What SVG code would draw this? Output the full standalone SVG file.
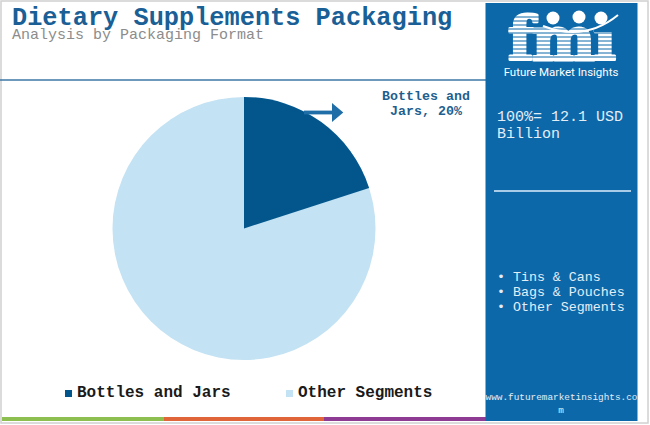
<svg xmlns="http://www.w3.org/2000/svg" width="650" height="425" viewBox="0 0 650 425">
<style>
.mono{font-family:"Liberation Mono","Courier New",monospace}
.title{font-size:25.3px;font-weight:bold;fill:#1a5f96}
.sub{font-size:15px;fill:#8c8c8c}
.lbl{font-size:13.3px;font-weight:bold;fill:#1f5f8f}
.leg{font-size:16px;font-weight:bold;fill:#1a1a1a}
.pan{fill:#e4eef7}
</style>
<defs>
<marker id="ah" markerWidth="3" markerHeight="5" refX="0" refY="2.5" orient="auto" markerUnits="strokeWidth">
<path d="M0,0 L3,2.5 L0,5 Z" fill="#1f6ea8"/>
</marker>
</defs>
<rect x="0" y="0" width="650" height="425" fill="#ffffff"/>
<rect x="1" y="1" width="647" height="422" fill="none" stroke="#d0d0d0" stroke-width="1.5"/>

<g id="header">
<text class="mono title" x="12" y="25">Dietary Supplements Packaging</text>
<text class="mono sub" x="12" y="39">Analysis by Packaging Format</text>
<line x1="0" y1="80" x2="486" y2="80" stroke="#3d78a6" stroke-width="1.5"/>
</g>

<g id="pie">
<circle cx="244" cy="228.5" r="131.5" fill="#c3e2f3"/>
<path d="M244,228.5 L244,97 A131.5,131.5 0 0 1 369.1,187.9 Z" fill="#03568c"/>
</g>

<g id="connectors">
<line x1="304" y1="112.5" x2="332" y2="112.5" stroke="#1f6ea8" stroke-width="3.8" marker-end="url(#ah)"/>
</g>

<g id="label-bottles">
<text class="mono lbl" x="426" y="99.5" text-anchor="middle">Bottles and</text>
<text class="mono lbl" x="426" y="114.5" text-anchor="middle">Jars, 20%</text>
</g>

<g id="legend">
<rect x="65" y="390" width="7" height="7" fill="#03568c"/>
<text class="mono leg" x="77" y="397">Bottles and Jars</text>
<rect x="286" y="390" width="7" height="7" fill="#c3e2f3"/>
<text class="mono leg" x="298" y="397">Other Segments</text>
</g>

<g id="footer-bars">
<rect x="2" y="417" width="162" height="4" fill="#8cbf4f"/>
<rect x="164" y="417" width="160" height="4" fill="#e0663a"/>
<rect x="324" y="417" width="162" height="4" fill="#8e3b93"/>
</g>

<g id="panel">
<rect x="485.5" y="3" width="152" height="418" fill="#0d68a9"/>
<g id="logo">
<text x="561" y="60" text-anchor="middle" font-family="DejaVu Serif, serif" font-weight="bold" font-size="60" fill="#ffffff" stroke="#ffffff" stroke-width="3" stroke-linejoin="round" letter-spacing="-2">fmi</text>
<g stroke="#0d68a9" stroke-width="1">
<line x1="505" y1="17" x2="620" y2="17"/>
<line x1="505" y1="21" x2="620" y2="21"/>
<line x1="505" y1="25" x2="620" y2="25"/>
<line x1="505" y1="29" x2="620" y2="29"/>
<line x1="505" y1="33" x2="620" y2="33"/>
<line x1="505" y1="37" x2="620" y2="37"/>
<line x1="505" y1="41" x2="620" y2="41"/>
<line x1="505" y1="45" x2="620" y2="45"/>
<line x1="505" y1="49" x2="620" y2="49"/>
<line x1="505" y1="53" x2="620" y2="53"/>
<line x1="505" y1="57" x2="620" y2="57"/>
</g>
<rect x="594" y="8" width="18" height="24" fill="#0d68a9"/>
<circle cx="553" cy="18" r="6.5" fill="#ffffff"/>
<circle cx="579" cy="17" r="6.5" fill="#ffffff"/>
<circle cx="601" cy="18" r="6.5" fill="#ffffff"/>
<path d="M543,26 Q585,42 618,15" fill="none" stroke="#ffffff" stroke-width="2"/>
<text x="561" y="76" text-anchor="middle" font-family="Roboto, 'Liberation Sans', sans-serif" font-size="11.5" fill="#ffffff">Future Market Insights</text>
</g>
<text class="mono pan" x="497" y="121" font-size="15">100%= 12.1 USD</text>
<text class="mono pan" x="497" y="138" font-size="15">Billion</text>
<line x1="494" y1="191" x2="631" y2="191" stroke="#a9cce8" stroke-width="2"/>
<text class="mono pan" x="497" y="281" font-size="13.3">• Tins &amp; Cans</text>
<text class="mono pan" x="497" y="296" font-size="13.3">• Bags &amp; Pouches</text>
<text class="mono pan" x="497" y="311" font-size="13.3">• Other Segments</text>
<text class="mono pan" x="485.5" y="400" font-size="9.4">www.futuremarketinsights.co</text>
<text class="mono pan" x="561" y="413" font-size="9.4" text-anchor="middle">m</text>
</g>
</svg>
